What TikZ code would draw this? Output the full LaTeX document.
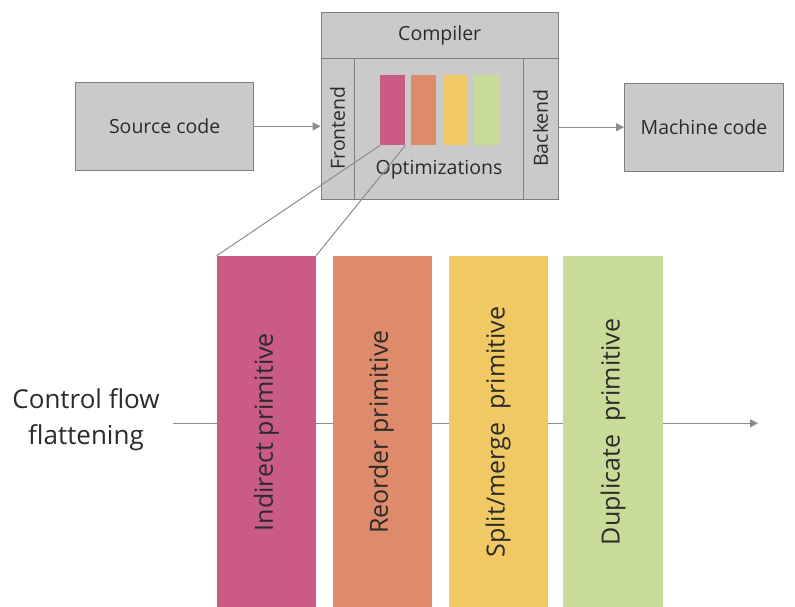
\documentclass[tikz,border=0pt]{standalone}
\usepackage{fontspec}
\setmainfont{Open Sans}
\usetikzlibrary{arrows.meta}
\definecolor{boxgray}{HTML}{CACACA}
\definecolor{edgegray}{HTML}{7F7F7F}
\definecolor{linegray}{HTML}{8C8C8C}
\definecolor{txt}{HTML}{2B2B2B}
\definecolor{cpink}{HTML}{C95B85}
\definecolor{corange}{HTML}{DE8B6C}
\definecolor{cyellow}{HTML}{F0C965}
\definecolor{cgreen}{HTML}{C8DB98}
\begin{document}
\begin{tikzpicture}[x=1pt,y=-1pt,
  box/.style={draw=edgegray, fill=boxgray, line width=1pt, inner sep=0pt, anchor=north west, text=txt},
  smallbar/.style={inner sep=0pt, anchor=north west, minimum width=25pt, minimum height=70pt},
  bigbar/.style={inner sep=0pt, anchor=north west, minimum width=99pt, minimum height=352pt},
  lbl/.style={text=txt, font=\fontsize{19.5}{24}\selectfont, inner sep=0pt},
  biglbl/.style={text=txt, font=\fontsize{25}{30}\selectfont, inner sep=0pt, rotate=90},
  conn/.style={draw=linegray, line width=1pt},
  arr/.style={draw=linegray, line width=1pt, -{Triangle[length=8pt,width=8pt]}}
]
\useasboundingbox (0,0) rectangle (795,607);
% flow line behind bars
\coordinate (fstart) at (173.3,423.3);
\coordinate (fend) at (758,423.3);
\draw[arr] (fstart) -- (fend);
% source / machine code
\node[box, minimum width=178.3pt, minimum height=88.3pt] (src) at (75,81.7) {};
\node[lbl] at (src.center) {Source code};
\node[box, minimum width=159pt, minimum height=88pt] (mach) at (624,82.7) {};
\node[lbl] at (mach.center) {Machine code};
% compiler
\node[box, minimum width=237pt, minimum height=46pt] (hdr) at (320.7,11.7) {};
\node[lbl] at (hdr.center) {Compiler};
\node[box, minimum width=33.6pt, minimum height=141.3pt] (front) at (320.7,57.7) {};
\node[box, minimum width=169pt, minimum height=141.3pt] (opt) at (354.3,57.7) {};
\node[box, minimum width=34.4pt, minimum height=141.3pt] (back) at (523.3,57.7) {};
\node[lbl, rotate=90] at (337.5,128) {Frontend};
\node[lbl, rotate=90] at (540.5,128) {Backend};
\node[lbl] (opttxt) at (439,170) {Optimizations};
% small bars
\node[smallbar, fill=cpink] (s1) at (380,75) {};
\node[smallbar, fill=corange] (s2) at (411,75) {};
\node[smallbar, fill=cyellow] (s3) at (442.5,75) {};
\node[smallbar, fill=cgreen] (s4) at (474,75) {};
% arrows
\draw[arr] (src.east) -- (src.east -| front.west);
\draw[arr] (back.east |- mach.west) -- (mach.west);
% big bars
\node[bigbar, fill=cpink] (b1) at (216.7,255.7) {};
\node[bigbar, fill=corange] (b2) at (332.5,255.7) {};
\node[bigbar, fill=cyellow] (b3) at (448.3,255.7) {};
\node[bigbar, fill=cgreen, minimum width=100pt] (b4) at (562.7,255.7) {};
\node[biglbl] at (266.5,432) {Indirect primitive};
\node[biglbl] at (381.5,432) {Reorder primitive};
\node[biglbl] at (498,432) {Split/merge\ \ primitive};
\node[biglbl] at (613,432) {Duplicate\ \ primitive};
% zoom connectors
\draw[conn] (s1.south west) -- (b1.north west);
\draw[conn] (s1.south east) -- (b1.north east);
% left label
\node[text=txt, font=\fontsize{26}{36}\selectfont, align=center, inner sep=0pt] (cff) at (86,420) {Control flow\\flattening};
\end{tikzpicture}
\end{document}
